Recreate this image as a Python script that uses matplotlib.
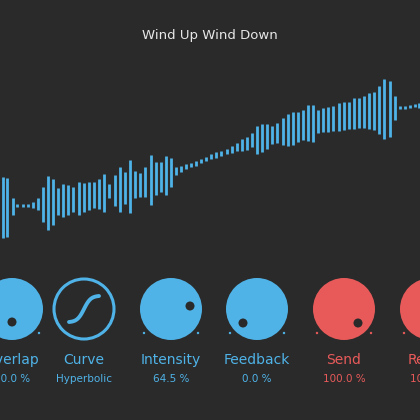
import numpy as np
import matplotlib.pyplot as plt
from matplotlib.patches import Circle

BG = "#2a2a2a"
BLUE = "#4fb3e8"
RED = "#e85a5a"

# waveform bars (x, top, bottom in a 1260 x 570 grid)
bar_x = [8, 22, 38, 52, 68, 84, 100, 115, 130, 145, 160, 175, 190, 205, 220, 237, 252, 267, 282, 297,
         313, 328, 344, 359, 374, 390, 405, 420, 436, 452, 467, 482, 497, 512, 528, 543, 558, 573, 588,
         603, 618, 634, 649, 664, 680, 695, 710, 726, 741, 756, 771, 786, 802, 817, 832, 848, 863, 878,
         894, 909, 924, 940, 955, 970, 985, 1000, 1016, 1031, 1046, 1062, 1077, 1092, 1108, 1123, 1138,
         1153, 1169, 1184, 1199, 1214, 1229, 1244, 1258]
bar_top = [350, 355, 415, 433, 433, 432, 425, 415, 380, 348, 358, 385, 372, 375, 382, 365, 370, 367, 367,
           358, 342, 372, 345, 320, 335, 300, 332, 340, 320, 285, 305, 305, 287, 295, 320, 318, 312, 308,
           302, 296, 290, 283, 277, 272, 266, 258, 250, 238, 232, 220, 197, 192, 192, 197, 190, 175, 162,
           155, 155, 150, 135, 135, 150, 145, 140, 138, 130, 125, 127, 115, 115, 108, 100, 95, 78, 58, 62,
           108, 138, 137, 134, 131, 128]
bar_bot = [535, 530, 465, 442, 442, 441, 445, 450, 485, 510, 495, 465, 472, 465, 455, 465, 455, 450, 445,
           448, 455, 415, 438, 455, 432, 458, 415, 410, 410, 435, 405, 395, 405, 382, 345, 335, 328, 322,
           317, 310, 304, 298, 293, 288, 282, 278, 272, 272, 270, 262, 282, 275, 268, 252, 250, 255, 258,
           255, 245, 240, 242, 245, 218, 215, 215, 212, 212, 210, 208, 208, 205, 205, 208, 210, 222, 238,
           232, 180, 147, 146, 143, 140, 145]

# knobs
knob_names = ["Overlap", "Curve", "Intensity", "Feedback", "Send", "Return"]
knob_values = ["50.0 %", "Hyperbolic", "64.5 %", "0.0 %", "100.0 %", "100.0 %"]
knob_x = [12, 84, 171, 257, 344, 431]
knob_colors = [BLUE, BLUE, BLUE, BLUE, RED, RED]
dot_pos = [(12, 322), None, (190, 306), (243, 323), (358, 323), (445, 323)]

fig = plt.figure(figsize=(4.2, 4.2), dpi=100)
fig.patch.set_facecolor(BG)

# waveform
wax = fig.add_axes([0, 170 / 420, 1, 190 / 420])
wax.set_facecolor(BG)
wax.vlines(bar_x, bar_top, bar_bot, colors=BLUE, linewidth=2.0)
wax.set_xlim(0, 1260)
wax.set_ylim(570, 0)
wax.axis("off")

# main pixel axes for knobs and text
ax = fig.add_axes([0, 0, 1, 1])
ax.patch.set_alpha(0)
ax.set_xlim(0, 420)
ax.set_ylim(420, 0)
ax.axis("off")

ax.text(210, 35, "Wind Up Wind Down", color="#e8e8e8", fontsize=9.5,
        ha="center", va="center", family="DejaVu Sans")

ky = 309
for name, val, x, c, dp in zip(knob_names, knob_values, knob_x, knob_colors, dot_pos):
    if name == "Curve":
        ax.add_patch(Circle((x, ky), 30, fill=False, edgecolor=c, linewidth=2.2))
        t = np.linspace(-1, 1, 50)
        ax.plot(x + 15 * t, ky - 13 * np.tanh(2.2 * t) / np.tanh(2.2), color=c,
                linewidth=2.8, solid_capstyle="round")
    else:
        ax.add_patch(Circle((x, ky), 31, color=c, linewidth=0))
        ax.add_patch(Circle(dp, 4.5, color=BG, linewidth=0))
        ax.add_patch(Circle((x - 27, 333), 1.2, color=c, linewidth=0))
        ax.add_patch(Circle((x + 27, 333), 1.2, color=c, linewidth=0))
    ax.text(x, 360, name, color=c, fontsize=10, ha="center", va="center")
    ax.text(x, 379, val, color=c, fontsize=7.5, ha="center", va="center")

fig.savefig("out.png", dpi=100, facecolor=BG)
